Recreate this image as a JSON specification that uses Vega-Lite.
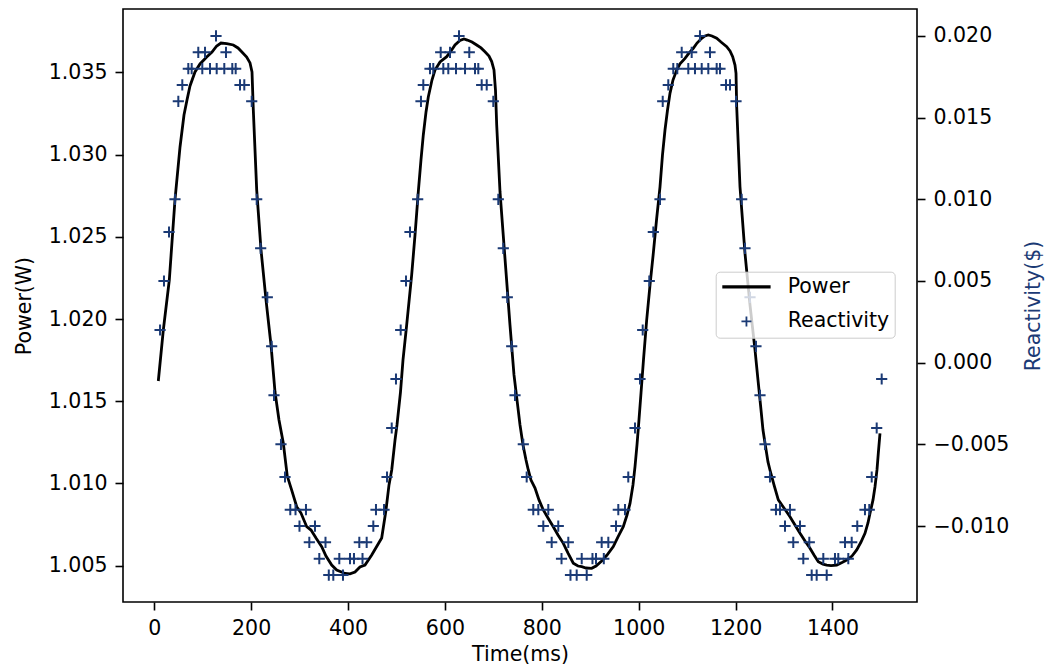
{
  "$schema": "https://vega.github.io/schema/vega-lite/v6.json",
  "width": 794,
  "height": 593,
  "autosize": {"type": "none"},
  "padding": {"left": 123, "top": 9, "right": 131, "bottom": 65},
  "background": "white",
  "config": {
    "view": {"stroke": "#000000", "strokeWidth": 1.6},
    "font": "DejaVu Sans",
    "axis": {
      "labelFont": "DejaVu Sans", "labelFontSize": 20.5, "labelColor": "#000000",
      "titleFont": "DejaVu Sans", "titleFontSize": 20.5, "titleFontWeight": "normal", "titleColor": "#000000",
      "tickColor": "#000000", "tickWidth": 1.6, "tickSize": 8, "labelPadding": 8,
      "grid": false, "domain": false, "labelOverlap": false, "labelFlush": false, "labelBound": false
    },
    "legend": {
      "orient": "none", "legendX": 592.7, "legendY": 262.7,
      "padding": 5, "symbolOffset": 15.5, "labelOffset": 31, "rowPadding": 13.5,
      "labelFont": "DejaVu Sans", "labelFontSize": 20.5, "labelColor": "#000000",
      "strokeColor": "#cccccc", "fillColor": "rgba(255,255,255,0.8)", "cornerRadius": 4,
      "symbolSize": 100, "symbolStrokeWidth": 1.8
    }
  },
  "datasets": {
    "power": [
      {"time": 8.4, "power": 1.01623}, {"time": 18.7, "power": 1.01933}, {"time": 31.1, "power": 1.02237},
      {"time": 42.8, "power": 1.02724}, {"time": 53.2, "power": 1.03046}, {"time": 61.4, "power": 1.03240},
      {"time": 67.6, "power": 1.03332}, {"time": 73.8, "power": 1.03417}, {"time": 84.1, "power": 1.03502},
      {"time": 94.4, "power": 1.03551}, {"time": 108.3, "power": 1.03593}, {"time": 119.2, "power": 1.03623},
      {"time": 128.9, "power": 1.03660}, {"time": 137.8, "power": 1.03678}, {"time": 149.6, "power": 1.03675},
      {"time": 163.2, "power": 1.03666}, {"time": 172.9, "power": 1.03648}, {"time": 180.5, "power": 1.03625},
      {"time": 190.8, "power": 1.03593}, {"time": 197.7, "power": 1.03557}, {"time": 201.8, "power": 1.03502},
      {"time": 204.5, "power": 1.03271}, {"time": 211.5, "power": 1.02784}, {"time": 220.4, "power": 1.02420},
      {"time": 230.7, "power": 1.02116}, {"time": 241.0, "power": 1.01842}, {"time": 249.3, "power": 1.01556},
      {"time": 257.5, "power": 1.01386}, {"time": 266.4, "power": 1.01246}, {"time": 274.6, "power": 1.01045},
      {"time": 283.7, "power": 1.00960}, {"time": 294.1, "power": 1.00859}, {"time": 302.9, "power": 1.00820},
      {"time": 314.7, "power": 1.00737}, {"time": 323.6, "power": 1.00717}, {"time": 333.9, "power": 1.00668},
      {"time": 345.7, "power": 1.00616}, {"time": 354.5, "power": 1.00559}, {"time": 366.3, "power": 1.00504},
      {"time": 376.6, "power": 1.00474}, {"time": 393.8, "power": 1.00453}, {"time": 404.1, "power": 1.00450},
      {"time": 414.4, "power": 1.00462}, {"time": 424.7, "power": 1.00492}, {"time": 435.0, "power": 1.00504},
      {"time": 448.9, "power": 1.00565}, {"time": 459.8, "power": 1.00620}, {"time": 469.5, "power": 1.00668},
      {"time": 478.4, "power": 1.00839}, {"time": 484.6, "power": 1.00991}, {"time": 490.2, "power": 1.01082},
      {"time": 497.0, "power": 1.01264}, {"time": 501.1, "power": 1.01356}, {"time": 508.3, "power": 1.01556},
      {"time": 513.5, "power": 1.01751}, {"time": 521.1, "power": 1.01964}, {"time": 531.4, "power": 1.02268},
      {"time": 538.3, "power": 1.02511}, {"time": 545.1, "power": 1.02774}, {"time": 550.6, "power": 1.02967},
      {"time": 555.4, "power": 1.03119}, {"time": 561.0, "power": 1.03259}, {"time": 565.7, "power": 1.03350},
      {"time": 573.3, "power": 1.03453}, {"time": 579.5, "power": 1.03514}, {"time": 589.9, "power": 1.03563},
      {"time": 603.7, "power": 1.03595}, {"time": 612.6, "power": 1.03630}, {"time": 620.8, "power": 1.03666},
      {"time": 631.1, "power": 1.03693}, {"time": 639.4, "power": 1.03703}, {"time": 646.2, "power": 1.03696},
      {"time": 655.9, "power": 1.03684}, {"time": 665.6, "power": 1.03666}, {"time": 674.5, "power": 1.03648},
      {"time": 682.7, "power": 1.03625}, {"time": 691.0, "power": 1.03599}, {"time": 696.6, "power": 1.03565},
      {"time": 701.3, "power": 1.03514}, {"time": 704.4, "power": 1.03392}, {"time": 706.9, "power": 1.03180},
      {"time": 713.7, "power": 1.02774}, {"time": 724.0, "power": 1.02369}, {"time": 734.3, "power": 1.01964},
      {"time": 742.6, "power": 1.01660}, {"time": 748.8, "power": 1.01508}, {"time": 755.0, "power": 1.01356},
      {"time": 761.2, "power": 1.01234}, {"time": 767.4, "power": 1.01143}, {"time": 772.1, "power": 1.01082},
      {"time": 777.7, "power": 1.01021}, {"time": 786.0, "power": 1.00972}, {"time": 794.2, "power": 1.00900},
      {"time": 803.1, "power": 1.00839}, {"time": 812.8, "power": 1.00790}, {"time": 823.7, "power": 1.00737},
      {"time": 833.4, "power": 1.00687}, {"time": 844.4, "power": 1.00636}, {"time": 854.1, "power": 1.00577},
      {"time": 865.0, "power": 1.00515}, {"time": 874.7, "power": 1.00498}, {"time": 882.4, "power": 1.00494},
      {"time": 891.2, "power": 1.00486}, {"time": 903.0, "power": 1.00484}, {"time": 911.9, "power": 1.00498},
      {"time": 923.6, "power": 1.00529}, {"time": 934.6, "power": 1.00565}, {"time": 947.6, "power": 1.00616},
      {"time": 957.3, "power": 1.00675}, {"time": 968.2, "power": 1.00737}, {"time": 975.9, "power": 1.00808},
      {"time": 982.1, "power": 1.00879}, {"time": 988.2, "power": 1.00991}, {"time": 992.4, "power": 1.01102},
      {"time": 996.5, "power": 1.01234}, {"time": 1000.6, "power": 1.01386}, {"time": 1004.8, "power": 1.01550},
      {"time": 1009.9, "power": 1.01751}, {"time": 1016.5, "power": 1.01994}, {"time": 1023.4, "power": 1.02207},
      {"time": 1030.2, "power": 1.02400}, {"time": 1036.8, "power": 1.02602}, {"time": 1044.0, "power": 1.02804},
      {"time": 1049.1, "power": 1.02997}, {"time": 1054.3, "power": 1.03149}, {"time": 1059.5, "power": 1.03271},
      {"time": 1064.6, "power": 1.03372}, {"time": 1070.8, "power": 1.03453}, {"time": 1078.5, "power": 1.03514},
      {"time": 1085.3, "power": 1.03551}, {"time": 1095.6, "power": 1.03585}, {"time": 1103.8, "power": 1.03617},
      {"time": 1112.7, "power": 1.03646}, {"time": 1120.4, "power": 1.03678}, {"time": 1130.1, "power": 1.03707},
      {"time": 1136.9, "power": 1.03721}, {"time": 1143.7, "power": 1.03727}, {"time": 1151.3, "power": 1.03721},
      {"time": 1161.0, "power": 1.03707}, {"time": 1169.9, "power": 1.03684}, {"time": 1181.7, "power": 1.03656},
      {"time": 1188.5, "power": 1.03630}, {"time": 1194.0, "power": 1.03595}, {"time": 1198.8, "power": 1.03544},
      {"time": 1200.9, "power": 1.03494}, {"time": 1202.3, "power": 1.03291}, {"time": 1209.1, "power": 1.02804},
      {"time": 1219.4, "power": 1.02400}, {"time": 1229.8, "power": 1.02085}, {"time": 1240.1, "power": 1.01812},
      {"time": 1246.3, "power": 1.01629}, {"time": 1252.5, "power": 1.01447}, {"time": 1256.6, "power": 1.01325},
      {"time": 1260.7, "power": 1.01246}, {"time": 1266.9, "power": 1.01131}, {"time": 1271.0, "power": 1.01082},
      {"time": 1279.3, "power": 1.00991}, {"time": 1288.2, "power": 1.00900}, {"time": 1299.9, "power": 1.00851},
      {"time": 1312.3, "power": 1.00798}, {"time": 1322.6, "power": 1.00748}, {"time": 1333.0, "power": 1.00697},
      {"time": 1343.3, "power": 1.00650}, {"time": 1353.6, "power": 1.00606}, {"time": 1361.9, "power": 1.00565},
      {"time": 1370.7, "power": 1.00524}, {"time": 1380.4, "power": 1.00510}, {"time": 1388.1, "power": 1.00504},
      {"time": 1397.0, "power": 1.00501}, {"time": 1408.7, "power": 1.00504}, {"time": 1419.7, "power": 1.00520},
      {"time": 1429.4, "power": 1.00535}, {"time": 1440.3, "power": 1.00559}, {"time": 1450.0, "power": 1.00596},
      {"time": 1458.9, "power": 1.00644}, {"time": 1467.1, "power": 1.00697}, {"time": 1473.3, "power": 1.00760},
      {"time": 1477.5, "power": 1.00819}, {"time": 1483.7, "power": 1.00900}, {"time": 1487.8, "power": 1.00980},
      {"time": 1491.9, "power": 1.01082}, {"time": 1494.6, "power": 1.01183}, {"time": 1498.1, "power": 1.01305}
    ],
    "reactivity": [
      {"time": 12.0, "reactivity": 0.002}, {"time": 20.1, "reactivity": 0.005}, {"time": 30.5, "reactivity": 0.008},
      {"time": 42.8, "reactivity": 0.010}, {"time": 49.7, "reactivity": 0.016}, {"time": 57.9, "reactivity": 0.017},
      {"time": 70.3, "reactivity": 0.018}, {"time": 77.3, "reactivity": 0.018}, {"time": 90.9, "reactivity": 0.019},
      {"time": 99.2, "reactivity": 0.018}, {"time": 104.8, "reactivity": 0.019}, {"time": 115.1, "reactivity": 0.018},
      {"time": 127.5, "reactivity": 0.020}, {"time": 128.9, "reactivity": 0.018}, {"time": 144.6, "reactivity": 0.018},
      {"time": 148.1, "reactivity": 0.019}, {"time": 161.1, "reactivity": 0.018}, {"time": 168.1, "reactivity": 0.018},
      {"time": 177.0, "reactivity": 0.017}, {"time": 185.9, "reactivity": 0.017}, {"time": 201.2, "reactivity": 0.016},
      {"time": 211.5, "reactivity": 0.010}, {"time": 219.7, "reactivity": 0.007}, {"time": 233.4, "reactivity": 0.004},
      {"time": 242.4, "reactivity": 0.001}, {"time": 247.2, "reactivity": -0.002}, {"time": 261.6, "reactivity": -0.005},
      {"time": 269.9, "reactivity": -0.007}, {"time": 280.8, "reactivity": -0.009}, {"time": 291.6, "reactivity": -0.009},
      {"time": 299.8, "reactivity": -0.010}, {"time": 313.2, "reactivity": -0.009}, {"time": 320.1, "reactivity": -0.011},
      {"time": 331.8, "reactivity": -0.010}, {"time": 340.7, "reactivity": -0.012}, {"time": 353.5, "reactivity": -0.011},
      {"time": 360.3, "reactivity": -0.013}, {"time": 369.6, "reactivity": -0.013}, {"time": 382.0, "reactivity": -0.012},
      {"time": 389.6, "reactivity": -0.013}, {"time": 404.1, "reactivity": -0.012}, {"time": 412.3, "reactivity": -0.012},
      {"time": 423.3, "reactivity": -0.011}, {"time": 429.9, "reactivity": -0.012}, {"time": 438.5, "reactivity": -0.011},
      {"time": 452.2, "reactivity": -0.010}, {"time": 457.7, "reactivity": -0.009}, {"time": 474.3, "reactivity": -0.009},
      {"time": 480.5, "reactivity": -0.007}, {"time": 490.2, "reactivity": -0.004},
      {"time": 499.0, "reactivity": -0.001}, {"time": 508.7, "reactivity": 0.002}, {"time": 519.7, "reactivity": 0.005},
      {"time": 527.9, "reactivity": 0.008}, {"time": 543.8, "reactivity": 0.010}, {"time": 550.6, "reactivity": 0.016},
      {"time": 555.4, "reactivity": 0.017}, {"time": 569.2, "reactivity": 0.018}, {"time": 576.0, "reactivity": 0.018},
      {"time": 591.3, "reactivity": 0.019}, {"time": 596.7, "reactivity": 0.018}, {"time": 607.0, "reactivity": 0.018},
      {"time": 610.5, "reactivity": 0.019}, {"time": 622.9, "reactivity": 0.018}, {"time": 629.1, "reactivity": 0.020},
      {"time": 641.5, "reactivity": 0.018}, {"time": 650.3, "reactivity": 0.019}, {"time": 662.1, "reactivity": 0.018},
      {"time": 668.9, "reactivity": 0.018}, {"time": 675.9, "reactivity": 0.017}, {"time": 686.3, "reactivity": 0.017},
      {"time": 699.9, "reactivity": 0.016}, {"time": 710.2, "reactivity": 0.010}, {"time": 720.5, "reactivity": 0.007},
      {"time": 728.8, "reactivity": 0.004}, {"time": 737.9, "reactivity": 0.001}, {"time": 744.7, "reactivity": -0.002},
      {"time": 761.8, "reactivity": -0.005}, {"time": 768.8, "reactivity": -0.007}, {"time": 782.4, "reactivity": -0.009},
      {"time": 792.8, "reactivity": -0.009}, {"time": 803.1, "reactivity": -0.010}, {"time": 813.4, "reactivity": -0.009},
      {"time": 820.4, "reactivity": -0.011}, {"time": 834.0, "reactivity": -0.010}, {"time": 840.7, "reactivity": -0.012},
      {"time": 854.7, "reactivity": -0.011}, {"time": 859.2, "reactivity": -0.013}, {"time": 872.0, "reactivity": -0.013},
      {"time": 882.4, "reactivity": -0.012}, {"time": 892.7, "reactivity": -0.013}, {"time": 904.6, "reactivity": -0.012},
      {"time": 911.9, "reactivity": -0.012}, {"time": 923.6, "reactivity": -0.011}, {"time": 928.0, "reactivity": -0.012},
      {"time": 937.3, "reactivity": -0.011}, {"time": 953.2, "reactivity": -0.010}, {"time": 957.9, "reactivity": -0.009},
      {"time": 971.7, "reactivity": -0.009}, {"time": 978.5, "reactivity": -0.007}, {"time": 992.4, "reactivity": -0.004},
      {"time": 1002.7, "reactivity": -0.001}, {"time": 1008.3, "reactivity": 0.002}, {"time": 1021.9, "reactivity": 0.005},
      {"time": 1030.2, "reactivity": 0.008}, {"time": 1044.0, "reactivity": 0.010}, {"time": 1049.6, "reactivity": 0.016},
      {"time": 1061.1, "reactivity": 0.017}, {"time": 1071.4, "reactivity": 0.018}, {"time": 1079.7, "reactivity": 0.018},
      {"time": 1088.8, "reactivity": 0.019}, {"time": 1102.4, "reactivity": 0.018}, {"time": 1109.4, "reactivity": 0.019},
      {"time": 1116.2, "reactivity": 0.018}, {"time": 1126.5, "reactivity": 0.020}, {"time": 1130.1, "reactivity": 0.018},
      {"time": 1143.7, "reactivity": 0.018}, {"time": 1147.2, "reactivity": 0.019}, {"time": 1161.0, "reactivity": 0.018},
      {"time": 1167.8, "reactivity": 0.018}, {"time": 1180.2, "reactivity": 0.017}, {"time": 1188.5, "reactivity": 0.017},
      {"time": 1200.9, "reactivity": 0.016}, {"time": 1212.6, "reactivity": 0.010}, {"time": 1219.4, "reactivity": 0.007},
      {"time": 1229.8, "reactivity": 0.004}, {"time": 1242.1, "reactivity": 0.001}, {"time": 1250.4, "reactivity": -0.002},
      {"time": 1260.7, "reactivity": -0.005}, {"time": 1271.0, "reactivity": -0.007}, {"time": 1283.4, "reactivity": -0.009},
      {"time": 1291.7, "reactivity": -0.009}, {"time": 1302.0, "reactivity": -0.010}, {"time": 1312.3, "reactivity": -0.009},
      {"time": 1319.1, "reactivity": -0.011}, {"time": 1333.0, "reactivity": -0.010}, {"time": 1339.8, "reactivity": -0.012},
      {"time": 1352.2, "reactivity": -0.011}, {"time": 1357.1, "reactivity": -0.013}, {"time": 1367.4, "reactivity": -0.013},
      {"time": 1381.1, "reactivity": -0.012}, {"time": 1388.1, "reactivity": -0.013}, {"time": 1405.2, "reactivity": -0.012},
      {"time": 1412.0, "reactivity": -0.012}, {"time": 1425.9, "reactivity": -0.011}, {"time": 1432.7, "reactivity": -0.012},
      {"time": 1439.7, "reactivity": -0.011}, {"time": 1451.2, "reactivity": -0.010}, {"time": 1467.1, "reactivity": -0.009},
      {"time": 1476.0, "reactivity": -0.009}, {"time": 1481.0, "reactivity": -0.007}, {"time": 1491.3, "reactivity": -0.004},
      {"time": 1501.6, "reactivity": -0.001}
    ]
  },
  "layer": [
    {
      "data": {"name": "power"},
      "mark": {"type": "line", "strokeWidth": 2.8, "clip": true},
      "encoding": {
        "x": {"field": "time", "type": "quantitative",
              "scale": {"domain": [-64.5, 1574.5], "nice": false, "zero": false},
              "axis": {"values": [0, 200, 400, 600, 800, 1000, 1200, 1400], "format": "d", "title": "Time(ms)", "titlePadding": 6}},
        "y": {"field": "power", "type": "quantitative",
              "scale": {"domain": [1.002793, 1.038849], "nice": false, "zero": false},
              "axis": {"orient": "left", "values": [1.005, 1.010, 1.015, 1.020, 1.025, 1.030, 1.035], "format": ".3f", "title": "Power(W)", "titlePadding": 14}},
        "color": {"datum": "Power", "type": "nominal",
                  "scale": {"domain": ["Power", "Reactivity"], "range": ["#000000", "#1b3a75"]},
                  "legend": {"title": null, "labelExpr": "datum.label + '\u00a0\u00a0'"}}
      }
    },
    {
      "data": {"name": "reactivity"},
      "mark": {"type": "point", "filled": false, "size": 125, "strokeWidth": 2, "opacity": 1, "clip": true},
      "encoding": {
        "x": {"field": "time", "type": "quantitative"},
        "y": {"field": "reactivity", "type": "quantitative",
              "scale": {"domain": [-0.01465, 0.02165], "nice": false, "zero": false},
              "axis": {"orient": "right", "values": [-0.010, -0.005, 0, 0.005, 0.010, 0.015, 0.020], "format": ".3f", "title": "Reactivity($)", "titleColor": "#1b3a75", "titleAngle": 270, "titlePadding": 35}},
        "color": {"datum": "Reactivity", "type": "nominal", "legend": {"title": null, "labelExpr": "datum.label + '\u00a0\u00a0'"}},
        "shape": {"datum": "Reactivity", "type": "nominal",
                  "scale": {"domain": ["Power", "Reactivity"], "range": ["M-4.65,-0.15L4.65,-0.15L4.65,0.15L-4.65,0.15Z", "M-1,0L1,0M0,-1L0,1"]},
                  "legend": {"title": null, "labelExpr": "datum.label + '\u00a0\u00a0'"}}
      }
    }
  ],
  "resolve": {"scale": {"y": "independent"}}
}
